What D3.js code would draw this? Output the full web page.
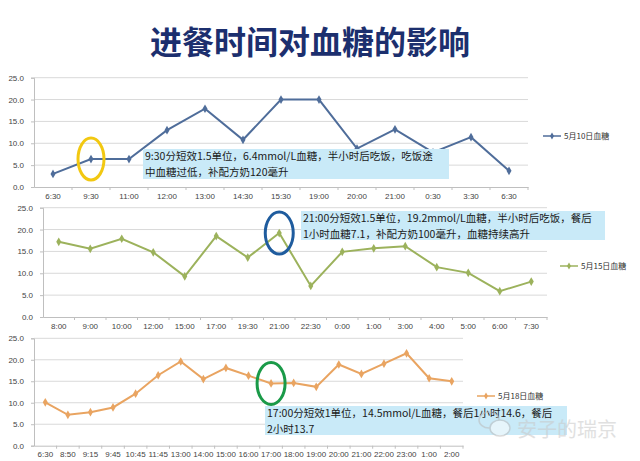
<!DOCTYPE html>
<html><head><meta charset="utf-8">
<script src="https://cdn.jsdelivr.net/npm/d3@7"></script>
<style>
html,body{margin:0;padding:0;background:#fff;}
svg{display:block;font-family:"Noto Sans CJK SC","Noto Sans",sans-serif;}
</style></head>
<body>
<script>
const titleText = "进餐时间对血糖的影响";
const yTicks = [0, 5, 10, 15, 20, 25];

const cats1 = ["6:30","9:30","11:00","12:00","13:00","14:30","15:30","19:00","20:00","21:00","0:30","3:30","6:30 "];
const vals1 = [3.0, 6.4, 6.4, 13.0, 17.9, 10.8, 20.0, 20.0, 8.8, 13.2, 7.9, 11.4, 3.7];
const name1 = "5月10日血糖";

const cats2 = ["8:00","9:00","10:00","12:00","15:00","17:00","19:30","21:00","22:30","0:00","1:00","3:00","4:00","5:00","6:00","7:30"];
const vals2 = [17.2, 15.6, 17.9, 14.8, 9.3, 18.5, 13.6, 19.2, 7.1, 14.9, 15.7, 16.2, 11.4, 10.1, 5.9, 8.1];
const name2 = "5月15日血糖";

const cats3 = ["6:30","8:50","9:15","9:45","10:45","11:45","13:00","14:00","15:00","16:00","17:00","18:00","19:00","20:00","21:00","22:00","23:00","1:00","2:00"];
const vals3 = [10.1, 7.2, 7.8, 8.9, 12.1, 16.4, 19.6, 15.5, 18.1, 16.3, 14.5, 14.6, 13.7, 18.9, 16.7, 19.1, 21.5, 15.7, 15.0];
const name3 = "5月18日血糖";

const notes = [
  ["9:30分短效1.5单位，6.4mmol/L血糖，半小时后吃饭，吃饭途", "中血糖过低，补配方奶120毫升"],
  ["21:00分短效1.5单位，19.2mmol/L血糖，半小时后吃饭，餐后", "1小时血糖7.1，补配方奶100毫升，血糖持续高升"],
  ["17:00分短效1单位，14.5mmol/L血糖，餐后1小时14.6，餐后", "2小时13.7"]
];
const watermark = "安子的瑞京";

const W = 640, H = 461;
const svg = d3.select("body").append("svg").attr("width", W).attr("height", H);

svg.append("text").attr("x", 310).attr("y", 54).attr("text-anchor", "middle")
  .attr("font-size", 32).attr("font-weight", "bold").attr("fill", "#1c2f6e").text(titleText);

const panels = [
  {cats: cats1, vals: vals1, name: name1, color: "#4f6d9a", x0: 34, x1: 528, y0: 77.7, y1: 187, lx: 543, ly: 136,
   note: notes[0], box: [143, 149, 449, 179], hi: 1, ell: {c: "#f2c811", rx: 13, ry: 21}},
  {cats: cats2, vals: vals2, name: name2, color: "#9cb25c", x0: 43, x1: 547, y0: 207.7, y1: 317, lx: 560, ly: 266,
   note: notes[1], box: [301, 211, 605, 240], hi: 7, ell: {c: "#1f5c9e", rx: 14, ry: 21}},
  {cats: cats3, vals: vals3, name: name3, color: "#e9a461", x0: 34, x1: 463, y0: 338.3, y1: 445.7, lx: 477, ly: 396,
   note: notes[2], box: [265, 406, 567, 435], hi: 10, ell: {c: "#1a9a48", rx: 14, ry: 21}}
];

panels.forEach(p => {
  const g = svg.append("g");
  const x = d3.scaleBand().domain(p.cats).range([p.x0, p.x1]);
  const y = d3.scaleLinear().domain([0, 25]).range([p.y1, p.y0]);

  g.selectAll("line.grid").data(yTicks.filter(t => t > 0)).join("line")
    .attr("x1", p.x0).attr("x2", p.x1).attr("y1", d => y(d)).attr("y2", d => y(d))
    .attr("stroke", "#d9d9d9").attr("stroke-width", 1);

  const ya = g.append("g").attr("transform", `translate(${p.x0},0)`)
    .call(d3.axisLeft(y).tickValues(yTicks).tickFormat(d3.format(".1f")).tickSize(3).tickPadding(7));
  ya.select(".domain").attr("stroke", "#bfbfbf");
  ya.selectAll(".tick line").attr("stroke", "#bfbfbf");
  ya.selectAll("text").attr("font-size", 8).attr("fill", "#444").attr("font-family", "Liberation Sans, Arial, sans-serif");

  const xa = g.append("g").attr("transform", `translate(0,${p.y1})`)
    .call(d3.axisBottom(x).tickSize(0).tickPadding(6));
  xa.select(".domain").attr("stroke", "#bfbfbf");
  xa.selectAll("text").attr("font-size", 8).attr("fill", "#444").attr("font-family", "Liberation Sans, Arial, sans-serif");
  g.selectAll("line.xt").data(p.cats.slice(1)).join("line")
    .attr("x1", d => x(d)).attr("x2", d => x(d)).attr("y1", p.y1).attr("y2", p.y1 + 3)
    .attr("stroke", "#bfbfbf");
  g.append("line").attr("x1", p.x1).attr("x2", p.x1).attr("y1", p.y1).attr("y2", p.y1 + 3).attr("stroke", "#bfbfbf");

  const cx = (d, i) => x(p.cats[i]) + x.bandwidth() / 2;
  const line = d3.line().x((d, i) => cx(d, i)).y(d => y(d));
  g.append("path").datum(p.vals).attr("d", line).attr("fill", "none")
    .attr("stroke", p.color).attr("stroke-width", 2);
  const diamond = d3.symbol().type(d3.symbolDiamond).size(22);
  g.selectAll("path.m").data(p.vals).join("path")
    .attr("d", diamond).attr("fill", p.color)
    .attr("transform", (d, i) => `translate(${cx(d, i)},${y(d)})`);

  g.append("line").attr("x1", p.lx).attr("x2", p.lx + 18).attr("y1", p.ly).attr("y2", p.ly)
    .attr("stroke", p.color).attr("stroke-width", 1.5);
  g.append("path").attr("d", d3.symbol().type(d3.symbolDiamond).size(14)).attr("fill", p.color)
    .attr("transform", `translate(${p.lx + 9},${p.ly})`);
  g.append("text").attr("x", p.lx + 21).attr("y", p.ly + 3).attr("font-size", 8).attr("fill", "#333")
    .text(p.name);

  const [bx0, by0, bx1, by1] = p.box;
  g.append("rect").attr("x", bx0).attr("y", by0).attr("width", bx1 - bx0).attr("height", by1 - by0)
    .attr("fill", "#c9eaf8");
  p.note.forEach((t, k) => {
    g.append("text").attr("x", bx0 + 2).attr("y", by0 + 11 + k * 15.5).attr("font-size", 10.5)
      .attr("fill", "#1a1a1a").text(t);
  });

  g.append("ellipse").attr("cx", cx(null, p.hi)).attr("cy", y(p.vals[p.hi]))
    .attr("rx", p.ell.rx).attr("ry", p.ell.ry).attr("fill", "none")
    .attr("stroke", p.ell.c).attr("stroke-width", 3);
});

const wm = svg.append("g").attr("opacity", 0.55);
wm.append("ellipse").attr("cx", 489).attr("cy", 420).attr("rx", 10).attr("ry", 8).attr("fill", "none").attr("stroke", "#bbb").attr("stroke-width", 1.5);
wm.append("ellipse").attr("cx", 500).attr("cy", 428).attr("rx", 10).attr("ry", 8).attr("fill", "#fff").attr("stroke", "#bbb").attr("stroke-width", 1.5);
wm.append("text").attr("x", 517).attr("y", 437).attr("font-size", 20).attr("fill", "#c8c8c8").text(watermark);
</script>
</body></html>
